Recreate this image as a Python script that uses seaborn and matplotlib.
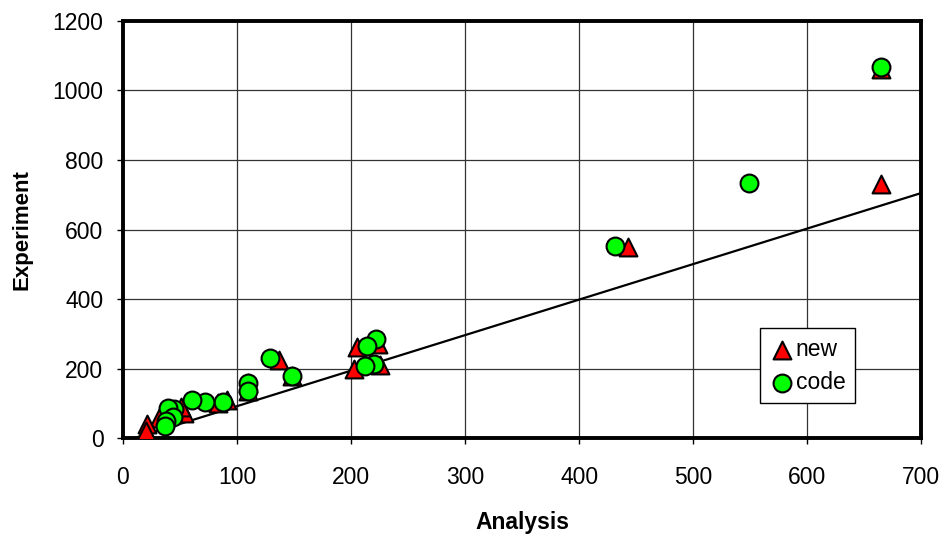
import matplotlib
matplotlib.use("Agg")
import matplotlib.pyplot as plt
import seaborn as sns

# values
code_x = [665, 549, 431, 222, 214, 220, 212, 148, 129, 110, 110, 88, 72, 61, 45, 40, 44, 38, 37]
code_y = [1066, 733, 553, 284, 266, 213, 208, 180, 230, 158, 137, 103, 105, 110, 85, 88, 62, 50, 35]

new_x = [665, 665, 443, 224, 205, 225, 203, 137, 148, 110, 110, 91, 83, 54, 51, 32, 21, 20]
new_y = [1062, 731, 550, 272, 263, 210, 200, 226, 178, 160, 135, 109, 100, 71, 90, 57, 42, 22]

fit_x = [10, 700]
fit_y = [0, 705]

x_ticks = [0, 100, 200, 300, 400, 500, 600, 700]
y_ticks = [0, 200, 400, 600, 800, 1000, 1200]

sns.set_style("white")
plt.rcParams["font.family"] = ["Liberation Sans", "DejaVu Sans"]
plt.rcParams["text.color"] = "black"
plt.rcParams["axes.labelcolor"] = "black"
plt.rcParams["xtick.color"] = "black"
plt.rcParams["ytick.color"] = "black"

fig = plt.figure(figsize=(9.45, 5.35), dpi=100)
ax = fig.add_axes([0.130, 0.181, 0.845, 0.780])

sns.lineplot(x=fit_x, y=fit_y, color="black", linewidth=1.6, ax=ax, zorder=2)
sns.scatterplot(x=new_x, y=new_y, marker="^", s=165, color="#ff0000",
                edgecolor="black", linewidth=1.5, ax=ax, zorder=3, label="new")
sns.scatterplot(x=code_x, y=code_y, marker="o", s=165, color="#00ff00",
                edgecolor="black", linewidth=1.5, ax=ax, zorder=4, label="code")

ax.set_xlim(0, 700)
ax.set_ylim(0, 1200)
ax.set_xticks(x_ticks)
ax.set_yticks(y_ticks)
ax.grid(True, color="#333333", linewidth=0.9)
ax.set_axisbelow(True)

for sp in ax.spines.values():
    sp.set_visible(True)
    sp.set_color("black")
    sp.set_linewidth(2.8)

ax.tick_params(axis="both", direction="out", length=4, width=1, color="black",
               labelsize=16.5, bottom=True, left=True)
ax.tick_params(axis="x", pad=16)
ax.tick_params(axis="y", pad=10)

ax.set_xlabel("Analysis", fontsize=16.5, fontweight="bold", labelpad=16)
ax.set_ylabel("Experiment", fontsize=16, fontweight="bold", labelpad=14)

leg = ax.legend(loc="lower left", bbox_to_anchor=(0.798, 0.084), frameon=True,
                fancybox=False, edgecolor="black", framealpha=1, fontsize=16.5,
                handletextpad=0.05, borderpad=0.4, labelspacing=0.45,
                handlelength=1.1, borderaxespad=0)
leg.get_frame().set_linewidth(1.0)

fig.savefig("out.png", dpi=100)
